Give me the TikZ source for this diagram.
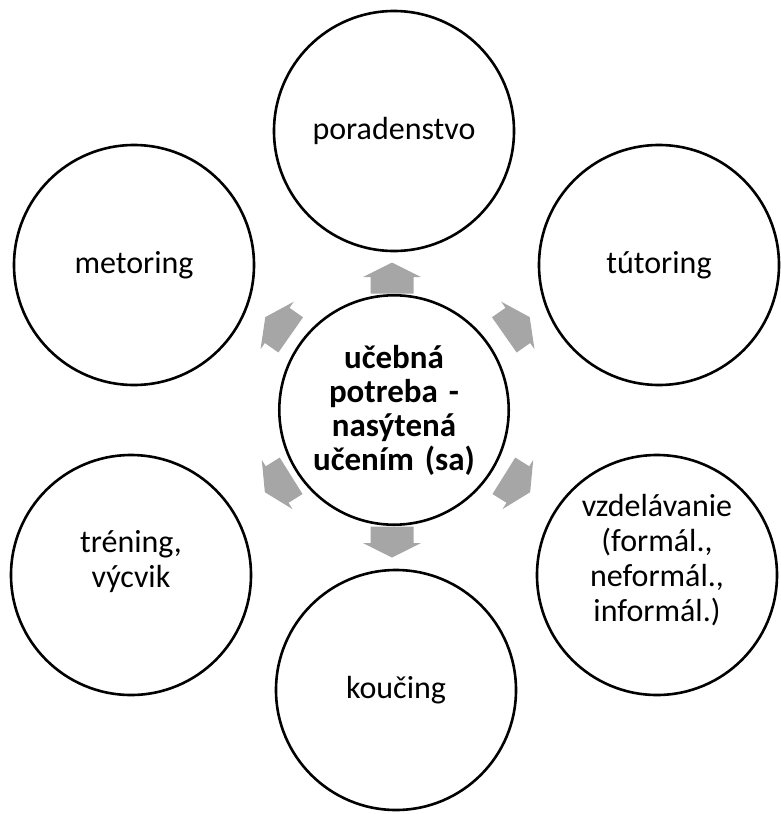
\documentclass[tikz,border=0pt]{standalone}
\usepackage{fontspec}
\setmainfont{Carlito}
\definecolor{arrgray}{RGB}{166,166,166}
\tikzset{
  sat/.style={circle,draw=black,line width=2.6pt,minimum size=240pt,inner sep=0pt,
    align=center,font=\fontsize{32}{35}\selectfont,text width=200pt},
  sattext/.style={inner sep=0pt,align=center,font=\fontsize{32}{35}\selectfont,text width=200pt},
  hub/.style={circle,draw=black,line width=2.6pt,minimum size=212pt,inner sep=0pt,
    align=center,font=\bfseries\fontsize{33}{34}\selectfont,text width=190pt},
  blockarrow/.pic={\fill[arrgray] (-15.5,-21.5)--(1,-21.5)--(1,-29)--(15.5,0)--(1,29)--(1,21.5)--(-15.5,21.5)--cycle;}
}
\begin{document}
\begin{tikzpicture}[x=1pt,y=-1pt]
\useasboundingbox (0,0) rectangle (780,814);
\node[hub] (hub) at (394,410) {učebná\\potreba -\\nasýtená\\učením (sa)};
\node[sat] (top) at (394,131) {poradenstvo};
\node[sat] (ur) at (659,265) {tútoring};
\node[sat] (lr) at (657,575) {};
\node[sattext] (lrt) at ([yshift=15pt]lr.center) {vzdelávanie\\(formál.,\\neformál.,\\informál.)};
\node[sat] (bot) at (396,690) {koučing};
\node[sat] (ll) at (131,575) {};
\node[sattext] (llt) at ([yshift=13pt]ll.center) {tréning,\\výcvik};
\node[sat] (ul) at (134,265) {metoring};
\pic[rotate=90] at (392,278) {blockarrow};
\pic[rotate=-90] at (392,542) {blockarrow};
\pic[rotate=35] at (517,326) {blockarrow};
\pic[rotate=145] at (278,326) {blockarrow};
\pic[rotate=-32] at (517,484) {blockarrow};
\pic[rotate=-148] at (278,484) {blockarrow};
\end{tikzpicture}
\end{document}
